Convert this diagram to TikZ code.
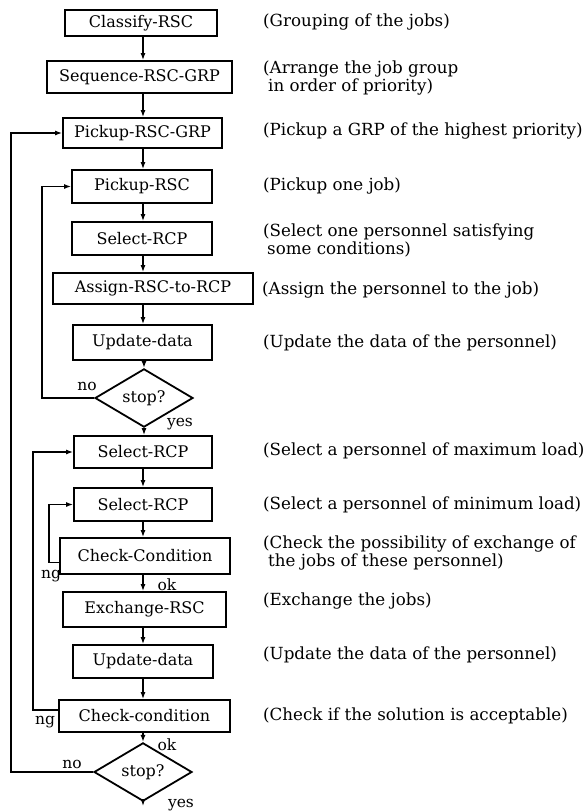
\documentclass[tikz,border=0pt]{standalone}
\usepackage{fontspec}
\setmainfont{DejaVu Serif}
\usetikzlibrary{arrows.meta,shapes.geometric}
\newcommand\flowbox[6]{\node[box,minimum width={(#3-#2)*1pt},minimum height={(#5-#4)*1pt}] (#1) at ({(#2+#3)/2},{(#4+#5)/2}) {#6};}
\begin{document}
\begin{tikzpicture}[x=1pt,y=-1pt,
  box/.style={draw,line width=1.8pt,inner sep=0pt,font=\fontsize{16}{18}\selectfont},
  dia/.style={diamond,draw,line width=1.8pt,inner sep=0pt,minimum width=98pt,minimum height=40pt,font=\fontsize{16}{18}\selectfont},
  cmt/.style={anchor=west,inner sep=0pt,align=left,font=\fontsize{16.7}{18}\selectfont},
  lbl/.style={inner sep=0pt,font=\fontsize{15.5}{18}\selectfont},
  arr/.style={line width=1.3pt,-{Latex[length=7pt,width=5pt]}}]
\useasboundingbox (0,0) rectangle (585,812);
% boxes
\flowbox{b1}{65}{217}{10}{36}{Classify-RSC}
\flowbox{b2}{47}{232}{61}{93}{Sequence-RSC-GRP}
\flowbox{b3}{63}{222}{118}{148}{Pickup-RSC-GRP}
\flowbox{b4}{72}{212}{170}{203}{Pickup-RSC}
\flowbox{b5}{72}{212}{222}{255}{Select-RCP}
\flowbox{b6}{53}{253}{273}{304}{Assign-RSC-to-RCP}
\flowbox{b7}{73}{212}{325}{360}{Update-data}
\node[dia] (d1) at (144,398) {stop?};
\flowbox{b8}{74}{212}{436}{468}{Select-RCP}
\flowbox{b9}{74}{212}{488}{521}{Select-RCP}
\flowbox{b10}{60}{230}{538}{574}{Check-Condition}
\flowbox{b11}{63}{226}{592}{627}{Exchange-RSC}
\flowbox{b12}{73}{213}{645}{678}{Update-data}
\flowbox{b13}{59}{230}{700}{732}{Check-condition}
\node[dia] (d2) at (143,772) {stop?};
% comments
\node[cmt] (c1) at (263,22) {(Grouping of the jobs)};
\node[cmt] (c2) at (263,78) {(Arrange the job group\\\hspace*{5pt}in order of priority)};
\node[cmt] (c3) at (263,131) {(Pickup a GRP of the highest priority)};
\node[cmt] (c4) at (263,186) {(Pickup one job)};
\node[cmt] (c5) at (263,240) {(Select one personnel satisfying\\\hspace*{4pt}some conditions)};
\node[cmt] (c6) at (262,290) {(Assign the personnel to the job)};
\node[cmt] (c7) at (263,343) {(Update the data of the personnel)};
\node[cmt] (c8) at (263,451) {(Select a personnel of maximum load)};
\node[cmt] (c9) at (263,505) {(Select a personnel of minimum load)};
\node[cmt] (c10) at (263,553) {(Check the possibility of exchange of\\\hspace*{5pt}the jobs of these personnel)};
\node[cmt] (c11) at (263,601) {(Exchange the jobs)};
\node[cmt] (c12) at (263,655) {(Update the data of the personnel)};
\node[cmt] (c13) at (263,716) {(Check if the solution is acceptable)};
% labels
\node[lbl] (l1) at (87,386) {no};
\node[lbl] (l2) at (180,424) {yes};
\node[lbl] (l3) at (51,576) {ng};
\node[lbl] (l4) at (167,585) {ok};
\node[lbl] (l5) at (45,722) {ng};
\node[lbl] (l6) at (167,745) {ok};
\node[lbl] (l7) at (72,764) {no};
\node[lbl] (l8) at (181,805) {yes};
% spine and loop coordinates
\coordinate (sp) at (143,0);
\coordinate (xo) at (11,0);
\coordinate (xi) at (42,0);
\coordinate (xa) at (33,0);
\coordinate (xb) at (49,0);
\coordinate (endp) at (143,806);
% vertical connectors
\draw[arr] (b1.south -| sp) -- (b2.north -| sp);
\draw[arr] (b2.south -| sp) -- (b3.north -| sp);
\draw[arr] (b3.south -| sp) -- (b4.north -| sp);
\draw[arr] (b4.south -| sp) -- (b5.north -| sp);
\draw[arr] (b5.south -| sp) -- (b6.north -| sp);
\draw[arr] (b6.south -| sp) -- (b7.north -| sp);
\draw[arr] (b7.south -| d1) -- (d1.north);
\draw[arr] (d1.south) -- (b8.north -| d1);
\draw[arr] (b8.south -| sp) -- (b9.north -| sp);
\draw[arr] (b9.south -| sp) -- (b10.north -| sp);
\draw[arr] (b10.south -| sp) -- (b11.north -| sp);
\draw[arr] (b11.south -| sp) -- (b12.north -| sp);
\draw[arr] (b12.south -| sp) -- (b13.north -| sp);
\draw[arr] (b13.south -| d2) -- (d2.north);
\draw[arr] (d2.south) -- (endp);
% loops
\draw[arr] (d1.west) -- (d1.west -| xi) |- (b4.west);
\draw[arr] (d2.west) -- (d2.west -| xo) |- (b3.west);
\coordinate (o13) at ([yshift=6pt]b13.west);
\coordinate (o10) at ([yshift=-6.5pt]b10.west);
\draw[arr] (o13) -- (o13 -| xa) |- (b8.west);
\draw[arr] (o10) -- (o10 -| xb) |- (b9.west);
\end{tikzpicture}
\end{document}
